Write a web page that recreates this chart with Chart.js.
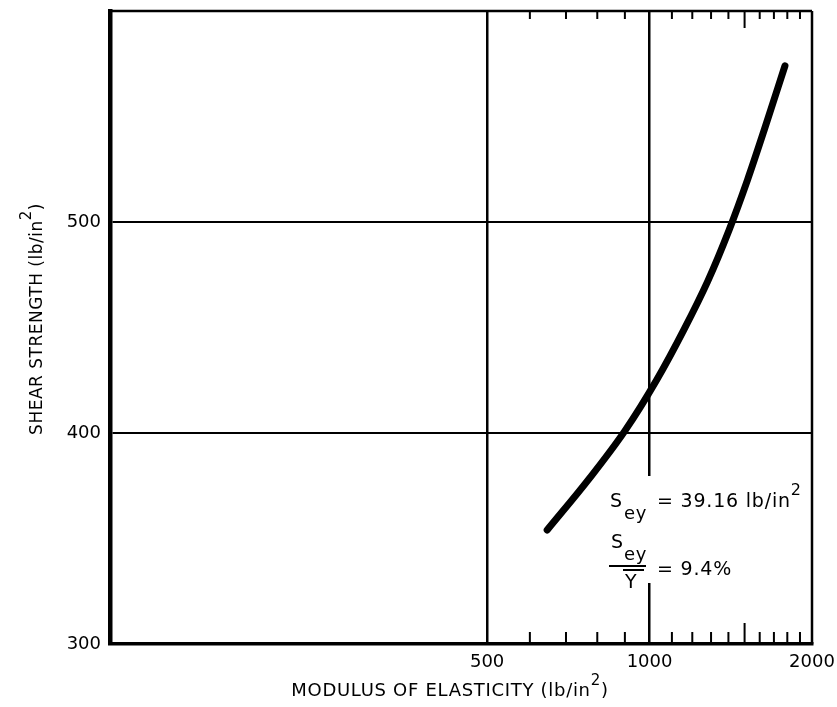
<!DOCTYPE html>
<html>
<head>
<meta charset="utf-8">
<script src="https://cdn.jsdelivr.net/npm/chart.js@4"></script>
<style>
  html, body { margin: 0; padding: 0; background: #fff; }
  #wrap { width: 837px; height: 707px; position: relative; }
</style>
</head>
<body>
<div id="wrap"><canvas id="shearChart"></canvas></div>
<script>
// curve (modulus lb/in^2 vs shear strength lb/in^2)
const modulus = [646, 771, 900, 1030, 1158, 1282, 1403, 1519, 1633, 1782];
const shear   = [354, 378, 401, 425, 449, 472, 496, 520, 544, 574];

const xTickLabels = [500, 1000, 2000];
const xGridValues = [500, 1000];
const xMinorTicks = [600, 700, 800, 900, 1100, 1200, 1300, 1400, 1500, 1600, 1700, 1800, 1900];
const xMajorMinor = [1500];
const yTickLabels = [300, 400, 500];
const yGridValues = [400, 500];

const FONT = '"DejaVu Sans", sans-serif';
const font = s => `${s}px ${FONT}`;

function drawRich(ctx, x, y, segs) {
    let cx = x;
    segs.forEach(s => {
        ctx.font = font(s.size);
        ctx.fillText(s.t, cx, y + (s.dy || 0));
        cx += ctx.measureText(s.t).width;
    });
}
function richWidth(ctx, segs) {
    let w = 0;
    segs.forEach(s => { ctx.font = font(s.size); w += ctx.measureText(s.t).width; });
    return w;
}

const framePlugin = {
    id: 'frame',
    afterDraw(chart) {
        const ctx = chart.ctx;
        const a = chart.chartArea;
        const xs = chart.scales.x;
        ctx.save();
        ctx.strokeStyle = '#000';
        ctx.fillStyle = '#000';

        // top and right border
        ctx.lineWidth = 2.5;
        ctx.beginPath();
        ctx.moveTo(a.left, a.top); ctx.lineTo(a.right, a.top);
        ctx.moveTo(a.right, a.top); ctx.lineTo(a.right, a.bottom);
        ctx.stroke();

        // inside minor ticks, bottom and top
        ctx.lineWidth = 2;
        xMinorTicks.forEach(v => {
            const px = xs.getPixelForValue(v);
            const big = xMajorMinor.includes(v);
            ctx.beginPath();
            ctx.moveTo(px, a.bottom); ctx.lineTo(px, a.bottom - (big ? 21 : 12));
            ctx.moveTo(px, a.top); ctx.lineTo(px, a.top + (big ? 17 : 8));
            ctx.stroke();
        });

        // annotation box (gap in the 1000 line)
        ctx.fillStyle = '#fff';
        ctx.fillRect(606, 476, 200, 107);
        ctx.fillStyle = '#000';
        ctx.textBaseline = 'alphabetic';
        ctx.textAlign = 'left';
        ctx.letterSpacing = '0.8px';
        drawRich(ctx, 610, 507, [{ t: 'S', size: 19 }]);
        drawRich(ctx, 624, 519, [{ t: 'ey', size: 18 }]);
        drawRich(ctx, 657, 507, [{ t: '= 39.16 lb/in', size: 19 }, { t: '2', size: 16, dy: -12 }]);
        drawRich(ctx, 611, 548, [{ t: 'S', size: 19 }]);
        drawRich(ctx, 624, 560, [{ t: 'ey', size: 18 }]);
        ctx.lineWidth = 2;
        ctx.beginPath();
        ctx.moveTo(609, 566); ctx.lineTo(646, 566);
        ctx.moveTo(623, 570); ctx.lineTo(644, 570);
        ctx.stroke();
        drawRich(ctx, 625, 588, [{ t: 'Y', size: 19 }]);
        drawRich(ctx, 657, 575, [{ t: '= 9.4%', size: 19 }]);

        // axis titles
        const xt = [{ t: 'MODULUS OF ELASTICITY (lb/in', size: 18 }, { t: '2', size: 15, dy: -11 }, { t: ')', size: 18 }];
        ctx.letterSpacing = '0.7px';
        drawRich(ctx, 450 - richWidth(ctx, xt) / 2, 696, xt);

        const yt = [{ t: 'SHEAR STRENGTH (lb/in', size: 17 }, { t: '2', size: 15, dy: -11 }, { t: ')', size: 17 }];
        ctx.letterSpacing = '0.5px';
        ctx.translate(42, 319);
        ctx.rotate(-Math.PI / 2);
        drawRich(ctx, -richWidth(ctx, yt) / 2, 0, yt);
        ctx.restore();
    }
};

const ctx = document.getElementById('shearChart').getContext('2d');
new Chart(ctx, {
    type: 'line',
    data: {
        datasets: [{
            data: modulus.map((m, i) => ({ x: m, y: shear[i] })),
            borderColor: '#000',
            borderWidth: 7,
            borderCapStyle: 'round',
            pointRadius: 0,
            cubicInterpolationMode: 'monotone',
            fill: false
        }]
    },
    options: {
        responsive: true,
        maintainAspectRatio: false,
        animation: false,
        layout: { padding: { top: 11, right: 25, left: 0, bottom: 0 } },
        plugins: { legend: { display: false }, tooltip: { enabled: false } },
        scales: {
            x: {
                type: 'logarithmic',
                min: 100,
                max: 2000,
                afterBuildTicks: s => { s.ticks = xTickLabels.map(v => ({ value: v })); },
                afterFit: s => { s.height = 63; s.paddingLeft = 0; s.paddingRight = 0; },
                ticks: {
                    callback: v => String(v),
                    autoSkip: false,
                    maxRotation: 0,
                    padding: 8,
                    color: '#000',
                    font: { family: FONT, size: 18 }
                },
                grid: {
                    drawTicks: false,
                    lineWidth: 2.5,
                    color: c => (c.tick && xGridValues.includes(c.tick.value)) ? '#000' : 'rgba(0,0,0,0)'
                },
                border: { display: true, color: '#000', width: 3.5 }
            },
            y: {
                min: 300,
                max: 600,
                afterBuildTicks: s => { s.ticks = yTickLabels.map(v => ({ value: v })); },
                afterFit: s => { s.width = 110; s.paddingTop = 0; s.paddingBottom = 0; },
                ticks: {
                    padding: 9,
                    color: '#000',
                    font: { family: FONT, size: 18 }
                },
                grid: {
                    drawTicks: false,
                    lineWidth: 2,
                    color: c => (c.tick && yGridValues.includes(c.tick.value)) ? '#000' : 'rgba(0,0,0,0)'
                },
                border: { display: true, color: '#000', width: 4.5 }
            }
        }
    },
    plugins: [framePlugin]
});
</script>
</body>
</html>
